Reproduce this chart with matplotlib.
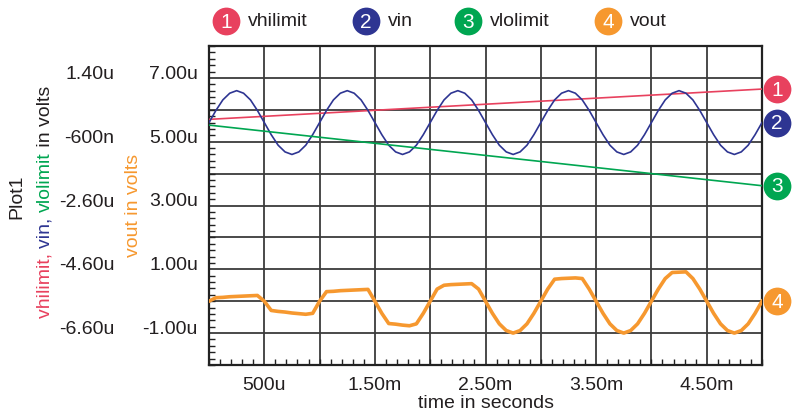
import numpy as np
import matplotlib
matplotlib.use('Agg')
import matplotlib.pyplot as plt
from matplotlib.transforms import offset_copy

plt.rcParams['font.family'] = ['Liberation Sans', 'DejaVu Sans']

# time axis in ms, simulator samples every 62.5u
t_ms = np.linspace(0, 5, 81)

# (units: u)
vin = [0.00, 0.38, 0.71, 0.92, 1.00, 0.92, 0.71, 0.38, 0.00, -0.38, -0.71, -0.92, -1.00, -0.92, -0.71, -0.38,
       0.00, 0.38, 0.71, 0.92, 1.00, 0.92, 0.71, 0.38, 0.00, -0.38, -0.71, -0.92, -1.00, -0.92, -0.71, -0.38,
       0.00, 0.38, 0.71, 0.92, 1.00, 0.92, 0.71, 0.38, 0.00, -0.38, -0.71, -0.92, -1.00, -0.92, -0.71, -0.38,
       0.00, 0.38, 0.71, 0.92, 1.00, 0.92, 0.71, 0.38, 0.00, -0.38, -0.71, -0.92, -1.00, -0.92, -0.71, -0.38,
       0.00, 0.38, 0.71, 0.92, 1.00, 0.92, 0.71, 0.38, 0.00, -0.38, -0.71, -0.92, -1.00, -0.92, -0.71, -0.38,
       0.00]
vout = [0.00, 0.11, 0.12, 0.14, 0.15, 0.16, 0.17, 0.18, 0.00, -0.29, -0.32, -0.34, -0.37, -0.39, -0.41, -0.38,
        0.00, 0.30, 0.31, 0.33, 0.34, 0.35, 0.36, 0.37, 0.00, -0.38, -0.70, -0.72, -0.75, -0.77, -0.71, -0.38,
        0.00, 0.38, 0.50, 0.52, 0.53, 0.54, 0.55, 0.38, 0.00, -0.38, -0.71, -0.92, -1.00, -0.92, -0.71, -0.38,
        0.00, 0.38, 0.69, 0.71, 0.72, 0.73, 0.71, 0.38, 0.00, -0.38, -0.71, -0.92, -1.00, -0.92, -0.71, -0.38,
        0.00, 0.38, 0.71, 0.90, 0.91, 0.92, 0.71, 0.38, 0.00, -0.38, -0.71, -0.92, -1.00, -0.92, -0.71, -0.38,
        0.00]
lim_t = [0, 5]
vhilimit = [0.10, 1.05]
vlolimit = [-0.08, -1.98]

names = ['vhilimit', 'vin', 'vlolimit', 'vout']
colors = ['#e8415e', '#2e3592', '#00a651', '#f6982f']

x_ticks = [0.5, 1.5, 2.5, 3.5, 4.5]
x_labels = ['500u', '1.50m', '2.50m', '3.50m', '4.50m']
left_ticks = [1.4, -0.6, -2.6, -4.6, -6.6]
left_labels = ['1.40u', '-600n', '-2.60u', '-4.60u', '-6.60u']
right_ticks = [7, 5, 3, 1, -1]
right_labels = ['7.00u', '5.00u', '3.00u', '1.00u', '-1.00u']

txt = '#231f20'
W, H = 795, 414
fs = 14

fig = plt.figure(figsize=(W / 100, H / 100), dpi=100)
ax = fig.add_axes([209 / W, 1 - 366 / H, 553 / W, 319 / H])
ax.set_xlim(0, 5)
ax.set_ylim(-7.6, 2.4)
ax2 = ax.twinx()
ax2.set_ylim(-2, 8)

# grid
for xv in np.arange(0.5, 5, 0.5):
    ax.axvline(xv, color='#3c3c3c', lw=1.3, zorder=1)
for yv in np.arange(-6.6, 2.4, 1.0):
    ax.axhline(yv, color='#3c3c3c', lw=1.3, zorder=1)

# curves
ax.plot(lim_t, vhilimit, color=colors[0], lw=1.2, zorder=3)
ax.plot(t_ms, vin, color=colors[1], lw=1.2, zorder=3)
ax.plot(lim_t, vlolimit, color=colors[2], lw=1.2, zorder=3)
ax2.plot(t_ms, vout, color=colors[3], lw=2.6, zorder=3)

# ticks
ax.set_xticks(x_ticks, x_labels)
ax.set_xticks(np.arange(0, 5.01, 0.1), minor=True)
ax.set_yticks(left_ticks, left_labels)
ax.set_yticks(np.arange(-7.6, 2.41, 0.2), minor=True)
ax.tick_params(axis='both', which='major', length=0, labelsize=fs, labelcolor=txt)
ax.tick_params(axis='x', which='major', pad=8)
ax.tick_params(axis='y', which='major', pad=68)
ax.tick_params(axis='both', which='minor', direction='in', length=4, width=1, color='#222222')
for lab in ax.get_yticklabels():
    lab.set_va('baseline')

ax2.yaxis.tick_left()
ax2.set_yticks(right_ticks, right_labels)
ax2.tick_params(axis='y', length=0, pad=8, labelsize=fs, labelcolor=txt)
for lab in ax2.get_yticklabels():
    lab.set_va('baseline')
for s in ax2.spines.values():
    s.set_visible(False)
for s in ax.spines.values():
    s.set_color('#222222')
    s.set_linewidth(1.6)

ax.set_xlabel('time in seconds', fontsize=fs, color=txt, labelpad=1)

# left labels
fig.text(17 / W, 1 - 197 / H, 'Plot1', rotation=90, ha='center', va='center', fontsize=fs, color=txt)
prev = fig.text(45 / W, 1 - 318 / H, 'vhilimit, ', rotation=90, ha='center', va='bottom',
                fontsize=fs, color=colors[0])
for piece, c in [('vin, ', colors[1]), ('vlolimit', colors[2]), (' in volts', txt)]:
    prev = ax.annotate(piece, xy=(0.5, 1), xycoords=prev, rotation=90, ha='center', va='bottom',
                       fontsize=fs, color=c, annotation_clip=False)
fig.text(133 / W, 1 - 205 / H, 'vout in volts', rotation=90, ha='center', va='center',
         fontsize=fs, color=colors[3])

# legend on top
leg_x = [226, 366, 468, 608]
for i, (nm, c) in enumerate(zip(names, colors)):
    fx, fy = leg_x[i] / W, 1 - 22 / H
    ax.plot([fx], [fy], 'o', ms=20, color=c, mec='none', transform=fig.transFigure, clip_on=False)
    fig.text(fx, fy, str(i + 1), color='white', ha='center', va='center', fontsize=15)
    fig.text(fx + 22 / W, fy, nm, color=txt, ha='left', va='center', fontsize=fs)

# markers at the right end of each curve
ends = [(ax, vhilimit[-1]), (ax, vin[-1]), (ax, vlolimit[-1]), (ax2, vout[-1])]
for i, (a, v) in enumerate(ends):
    tr = offset_copy(a.transData, fig=fig, x=15, y=0, units='dots')
    a.plot([5], [v], 'o', ms=20, color=colors[i], mec='none', transform=tr, clip_on=False, zorder=6)
    a.text(5, v, str(i + 1), transform=tr, color='white', ha='center', va='center',
           fontsize=15, zorder=7, clip_on=False)

fig.savefig('out.png', dpi=100)
